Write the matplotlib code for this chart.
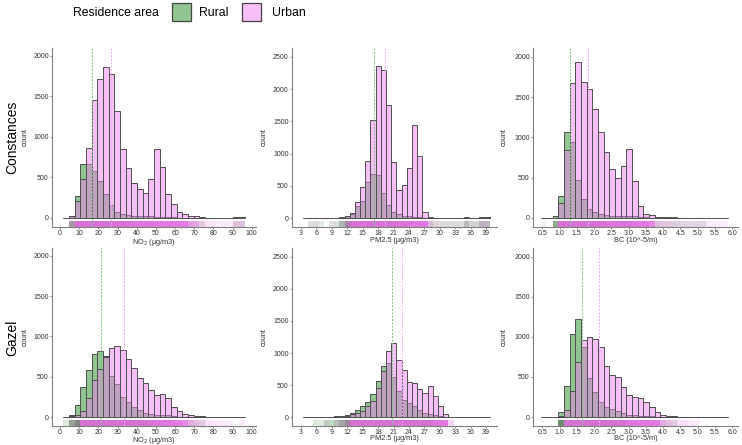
import matplotlib
matplotlib.use("Agg")
import matplotlib.pyplot as plt
import matplotlib.transforms as mtransforms
from matplotlib.patches import Rectangle
import numpy as np

plt.rcParams['font.family'] = ['Liberation Sans', 'DejaVu Sans']

# ---------------- data ----------------
cohorts = ["Constances", "Gazel"]
groups = ["Rural", "Urban"]

# NO2 bins
no2_start, no2_width, no2_n = 1.65, 2.96, 32
no2_const_rural = [0, 30, 270, 665, 665, 585, 450, 300, 160, 75, 50, 40, 30, 25, 20, 20,
                   15, 12, 10, 8, 5, 3, 2, 1, 1, 0, 0, 0, 0, 0, 3, 3]
no2_const_urban = [0, 20, 210, 480, 865, 1455, 1710, 1860, 1770, 1320, 850, 610, 430, 360, 305, 480,
                   850, 625, 290, 170, 75, 50, 30, 25, 10, 5, 3, 2, 2, 1, 12, 12]
no2_gazel_rural = [3, 30, 150, 370, 585, 780, 820, 760, 505, 410, 250, 190, 125, 85, 55, 40,
                   30, 25, 20, 10, 5, 3, 2, 1, 1, 0, 0, 0, 0, 0, 0, 0]
no2_gazel_urban = [0, 10, 20, 80, 230, 455, 595, 745, 850, 875, 830, 720, 610, 480, 420, 340,
                   270, 280, 230, 130, 75, 40, 25, 15, 10, 5, 3, 2, 1, 1, 0, 1]

# PM2.5 bins
pm_start, pm_width, pm_n = 3.39, 1.01, 36
pm_const_rural = [0, 1, 2, 1, 0, 1, 2, 20, 40, 70, 190, 265, 560, 690, 670, 390, 210, 100,
                  60, 40, 30, 20, 15, 10, 5, 3, 2, 2, 1, 2, 1, 15, 5, 5, 15, 15]
pm_const_urban = [0, 1, 1, 0, 0, 1, 1, 5, 30, 80, 250, 480, 890, 1520, 2350, 2290, 1750, 870,
                  430, 510, 780, 1440, 960, 100, 15, 3, 2, 2, 2, 2, 1, 10, 3, 3, 10, 15]
pm_gazel_rural = [0, 0, 2, 2, 10, 10, 15, 25, 40, 70, 120, 180, 240, 360, 560, 800, 840, 630,
                  410, 275, 220, 170, 120, 70, 50, 30, 20, 10, 0, 0, 0, 0, 0, 0, 0, 0]
pm_gazel_urban = [0, 0, 0, 0, 3, 0, 5, 10, 25, 50, 70, 100, 170, 250, 460, 720, 1035, 1160,
                  890, 730, 550, 530, 440, 380, 490, 330, 180, 50, 10, 0, 0, 0, 0, 0, 0, 0]

# BC bins
bc_start, bc_width, bc_n = 0.47, 0.164, 33
bc_const_rural = [0, 0, 30, 270, 1070, 940, 470, 230, 110, 70, 50, 40, 30, 30, 30, 30, 20,
                  10, 10, 5, 3, 2, 2, 2, 1, 1, 1, 1, 1, 0, 0, 0, 0]
bc_const_urban = [1, 0, 5, 180, 845, 1670, 1930, 1690, 1600, 1350, 1070, 820, 610, 500, 640, 860,
                  460, 150, 50, 40, 15, 10, 10, 10, 5, 5, 3, 5, 3, 2, 1, 1, 1]
bc_gazel_rural = [0, 0, 0, 60, 390, 1040, 1225, 870, 490, 310, 185, 120, 100, 70, 50, 30, 20,
                  15, 10, 10, 5, 2, 1, 1, 0, 0, 0, 0, 0, 0, 0, 0, 0]
bc_gazel_urban = [0, 0, 0, 10, 90, 320, 690, 960, 1000, 975, 870, 640, 520, 500, 380, 280, 245,
                  240, 190, 120, 65, 25, 15, 10, 5, 5, 2, 1, 0, 0, 0, 0, 0]

# group means (dashed lines)
means_const = {"NO2": (16.7, 26.7), "PM": (17.3, 19.25), "BC": (1.30, 1.81)}
means_gazel = {"NO2": (21.5, 33.3), "PM": (20.7, 22.65), "BC": (1.66, 2.15)}

# axis ticks / labels
no2_ticks = list(range(0, 101, 10))
pm_ticks = list(range(3, 40, 3))
bc_ticks = [0.5, 1.0, 1.5, 2.0, 2.5, 3.0, 3.5, 4.0, 4.5, 5.0, 5.5, 6.0]
no2_yticks = [0, 500, 1000, 1500, 2000]
pm_yticks = [0, 500, 1000, 1500, 2000, 2500]
bc_yticks = [0, 500, 1000, 1500, 2000]
xlabels = ["NO$_2$ (µg/m3)", "PM2.5 (µg/m3)", "BC (10^-5/m)"]

# ---------------- style ----------------
W, H = 742, 445
fig = plt.figure(figsize=(W / 100, H / 100), dpi=100)

rural_fc = (34/255, 139/255, 34/255, 0.5)
urban_fc = (238/255, 130/255, 238/255, 0.5)
edge_c = "#505050"
rural_rug = (34/255, 139/255, 34/255)
urban_rug = (232/255, 110/255, 232/255)
text_c = "#333333"
spine_c = "#808080"

def px_axes(left, right, top, bottom):
    return fig.add_axes([left / W, 1 - bottom / H, (right - left) / W, (bottom - top) / H])

cols = [
    dict(start=no2_start, width=no2_width, n=no2_n,
         data=[(no2_const_rural, no2_const_urban), (no2_gazel_rural, no2_gazel_urban)],
         means=[means_const["NO2"], means_gazel["NO2"]],
         xt=no2_ticks, xtl=[str(t) for t in no2_ticks], yt=no2_yticks,
         xlim=(-4.17, 102.2), ylim=(-111, 2095), left=52, right=256, ylab_x=28.5),
    dict(start=pm_start, width=pm_width, n=pm_n,
         data=[(pm_const_rural, pm_const_urban), (pm_gazel_rural, pm_gazel_urban)],
         means=[means_const["PM"], means_gazel["PM"]],
         xt=pm_ticks, xtl=[str(t) for t in pm_ticks], yt=pm_yticks,
         xlim=(1.19, 41.08), ylim=(-135, 2635), left=291.7, right=496.7, ylab_x=268),
    dict(start=bc_start, width=bc_width, n=bc_n,
         data=[(bc_const_rural, bc_const_urban), (bc_gazel_rural, bc_gazel_urban)],
         means=[means_const["BC"], means_gazel["BC"]],
         xt=bc_ticks, xtl=[f"{t:.1f}" for t in bc_ticks], yt=bc_yticks,
         xlim=(0.231, 6.165), ylim=(-112, 2108), left=533, right=738, ylab_x=508),
]
rows = [(48, 227), (248, 426)]
xlabel_top = [237.0, 435.0]   # pixel row of the top of each x-axis title

for ci, c in enumerate(cols):
    edges = c["start"] + c["width"] * np.arange(c["n"] + 1)
    for ri, (top, bottom) in enumerate(rows):
        ax = px_axes(c["left"], c["right"], top, bottom)
        rural, urban = c["data"][ri]
        rural = np.asarray(rural, dtype=float)
        urban = np.asarray(urban, dtype=float)
        # bars (Rural first, Urban on top)
        ax.bar(edges[:-1], rural, width=c["width"], align="edge", color=rural_fc,
               edgecolor=edge_c, linewidth=0.7, zorder=2)
        ax.bar(edges[:-1], urban, width=c["width"], align="edge", color=urban_fc,
               edgecolor=edge_c, linewidth=0.7, zorder=3)
        # rug: one strip per bin, opacity from the counts
        trans = mtransforms.blended_transform_factory(ax.transData, ax.transAxes)
        for vals, col in ((rural, rural_rug), (urban, urban_rug)):
            for i, v in enumerate(vals):
                if v <= 0:
                    continue
                a = min(0.9, 0.12 + v / 60.0)
                ax.add_patch(Rectangle((edges[i], 0.0), c["width"], 0.035, transform=trans,
                                       facecolor=col, edgecolor="none", alpha=a, zorder=1))
        # mean lines
        mr, mu = c["means"][ri]
        ax.axvline(mr, color="#7cc97c", lw=0.7, ls=(0, (2, 1.5)), zorder=4)
        ax.axvline(mu, color="#f4aaf4", lw=0.7, ls=(0, (2, 1.5)), zorder=4)

        ax.set_xlim(*c["xlim"])
        ax.set_ylim(*c["ylim"])
        ax.set_xticks(c["xt"])
        ax.set_xticklabels(c["xtl"])
        ax.set_yticks(c["yt"])
        for s in ("top", "right"):
            ax.spines[s].set_visible(False)
        for s in ("left", "bottom"):
            ax.spines[s].set_color(spine_c)
            ax.spines[s].set_linewidth(0.8)
        ax.tick_params(axis="both", length=1.5, width=0.6, color=spine_c, labelsize=5,
                       labelcolor=text_c, pad=0.8)
        ax.set_xlabel(xlabels[ci], fontsize=5.3, color=text_c)
        ax.xaxis.set_label_coords(0.5, -(xlabel_top[ri] - bottom) / (bottom - top))
        ax.set_ylabel("count", fontsize=5.3, color=text_c)
        ax.yaxis.set_label_coords(-(c["left"] - c["ylab_x"]) / (c["right"] - c["left"]), 0.5)
        ax.patch.set_alpha(0)

# row labels
fig.text(12 / W, 1 - 137 / H, cohorts[0], rotation=90, ha="center", va="center",
         fontsize=10, color="black")
fig.text(12 / W, 1 - 338 / H, cohorts[1], rotation=90, ha="center", va="center",
         fontsize=10, color="black")

# legend
fig.text(73 / W, 1 - 12.5 / H, "Residence area", ha="left", va="center", fontsize=8.8, color="black")
box_w, box_h = 19, 18
fig.patches.append(Rectangle((172 / W, 1 - 21 / H), box_w / W, box_h / H, transform=fig.transFigure,
                             facecolor=rural_fc, edgecolor="#444444", linewidth=0.9))
fig.text(199 / W, 1 - 12.5 / H, groups[0], ha="left", va="center", fontsize=8.8, color="black")
fig.patches.append(Rectangle((242 / W, 1 - 21 / H), box_w / W, box_h / H, transform=fig.transFigure,
                             facecolor=urban_fc, edgecolor="#444444", linewidth=0.9))
fig.text(272 / W, 1 - 12.5 / H, groups[1], ha="left", va="center", fontsize=8.8, color="black")

fig.savefig("out.png", dpi=100)
